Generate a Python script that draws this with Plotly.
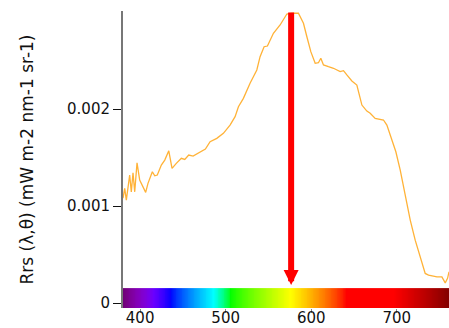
import numpy as np
import plotly.graph_objects as go

# ---- data ----
wavelength_nm = [380.0, 382.0, 383.9, 387.8, 389.7, 391.7, 393.7, 396.4, 399.5, 403.4,
                 406.5, 409.2, 414.3, 417.1, 420.1, 424.8, 428.8, 433.5, 437.3, 442.3,
                 448.2, 452.2, 456.8, 461.9, 467.7, 476.3, 481.8, 489.6, 497.3, 505.1,
                 511.0, 514.9, 520.7, 528.5, 536.4, 540.2, 544.9, 548.8, 555.8, 563.6,
                 571.5, 577.3, 585.0, 590.9, 594.9, 599.5, 604.6, 608.4, 611.2, 614.3,
                 620.1, 626.0, 633.8, 637.7, 641.6, 647.5, 653.3, 657.2, 659.2, 665.0,
                 668.9, 674.7, 684.4, 688.4, 692.3, 698.9, 704.0, 709.8, 715.7, 721.5,
                 727.4, 733.2, 737.1, 746.9, 752.7, 756.6, 759.3, 761.0]
rrs_1e3 = [1.082, 1.182, 1.062, 1.320, 1.147, 1.343, 1.147, 1.446, 1.268, 1.199,
           1.141, 1.234, 1.354, 1.312, 1.320, 1.423, 1.474, 1.570, 1.389, 1.440,
           1.492, 1.481, 1.526, 1.515, 1.543, 1.588, 1.663, 1.698, 1.749, 1.835,
           1.921, 2.024, 2.110, 2.265, 2.402, 2.539, 2.642, 2.649, 2.780, 2.866,
           2.979, 2.987, 2.987, 2.884, 2.745, 2.591, 2.471, 2.477, 2.523, 2.454,
           2.436, 2.420, 2.385, 2.395, 2.351, 2.289, 2.247, 2.127, 2.041, 1.979,
           1.956, 1.904, 1.887, 1.835, 1.732, 1.560, 1.371, 1.113, 0.856, 0.649,
           0.477, 0.306, 0.289, 0.271, 0.271, 0.209, 0.255, 0.323]
rrs = [v * 1e-3 for v in rrs_1e3]

peak_nm = 576.5          # arrow position
x_range = [380, 761]
y_range = [-0.00005, 0.00301]
spectrum_band = [-0.00005, 0.000155]   # colour strip extent (y)

x_ticks = [400, 500, 600, 700]
x_ticktext = ["400", "500", "600", "700"]
y_ticks = [0, 0.001, 0.002]
y_ticktext = ["0", "0.001", "0.002"]


# ---- visible spectrum colour strip (style) ----
def wl_rgb(wl, gamma=0.8):
    wl = min(max(wl, 380), 780)
    if wl < 440:
        r, g, b = -(wl - 440) / 60, 0.0, 1.0
    elif wl < 490:
        r, g, b = 0.0, (wl - 440) / 50, 1.0
    elif wl < 510:
        r, g, b = 0.0, 1.0, -(wl - 510) / 20
    elif wl < 580:
        r, g, b = (wl - 510) / 70, 1.0, 0.0
    elif wl < 645:
        r, g, b = 1.0, -(wl - 645) / 65, 0.0
    else:
        r, g, b = 1.0, 0.0, 0.0
    if wl < 420:
        f = 0.3 + 0.7 * (wl - 380) / 40
    elif wl > 700:
        f = 0.3 + 0.7 * (780 - wl) / 80
    else:
        f = 1.0
    c = [int(round(255 * (v * f) ** gamma)) if v > 0 else 0 for v in (r, g, b)]
    return "rgb(%d,%d,%d)" % tuple(c)


strip_x = np.arange(x_range[0], x_range[1] + 1)
shift = 4
cs = []
for w in strip_x:
    cs.append([(w - strip_x[0]) / (strip_x[-1] - strip_x[0]), wl_rgb(w + shift)])

fig = go.Figure()
fig.add_trace(go.Heatmap(
    x=strip_x, y=spectrum_band, z=[list(strip_x)],
    colorscale=cs, showscale=False, hoverinfo="skip",
))
fig.add_trace(go.Scatter(
    x=wavelength_nm, y=rrs, mode="lines",
    line=dict(color="rgba(255,165,20,0.85)", width=1.3),
    hoverinfo="skip", showlegend=False,
))

fig.add_annotation(
    x=peak_nm, y=0.000186, ax=peak_nm, ay=y_range[1],
    xref="x", yref="y", axref="x", ayref="y",
    text="", showarrow=True, arrowhead=2, arrowwidth=6, arrowsize=0.5,
    arrowcolor="red",
)

font = dict(family="DejaVu Sans", size=15, color="#111")
fig.update_layout(
    width=449, height=328,
    margin=dict(l=123, r=0, t=11, b=20),
    paper_bgcolor="white", plot_bgcolor="white",
    showlegend=False,
    font=font,
    xaxis=dict(range=x_range, tickvals=x_ticks, ticktext=x_ticktext,
               showgrid=False, zeroline=False, showline=False,
               ticks="outside", ticklen=4, tickcolor="#888",
               ticklabelstandoff=-8,
               tickfont=font, automargin=False),
    yaxis=dict(range=y_range, tickvals=y_ticks, ticktext=y_ticktext,
               showgrid=False, zeroline=False, showline=True,
               linecolor="#777", linewidth=2, layer="below traces",
               ticks="outside", ticklen=8, tickcolor="#111",
               tickfont=font, automargin=False,
               title=dict(text="Rrs (λ,θ) (mW m-2 nm-1 sr-1)",
                          font=dict(family="DejaVu Sans", size=17, color="#111"),
                          standoff=29)),
)

fig.write_html("out.html",
               config={"displayModeBar": False},
               post_script="document.body.style.margin='0';"
                           "document.body.style.overflow='hidden';")
